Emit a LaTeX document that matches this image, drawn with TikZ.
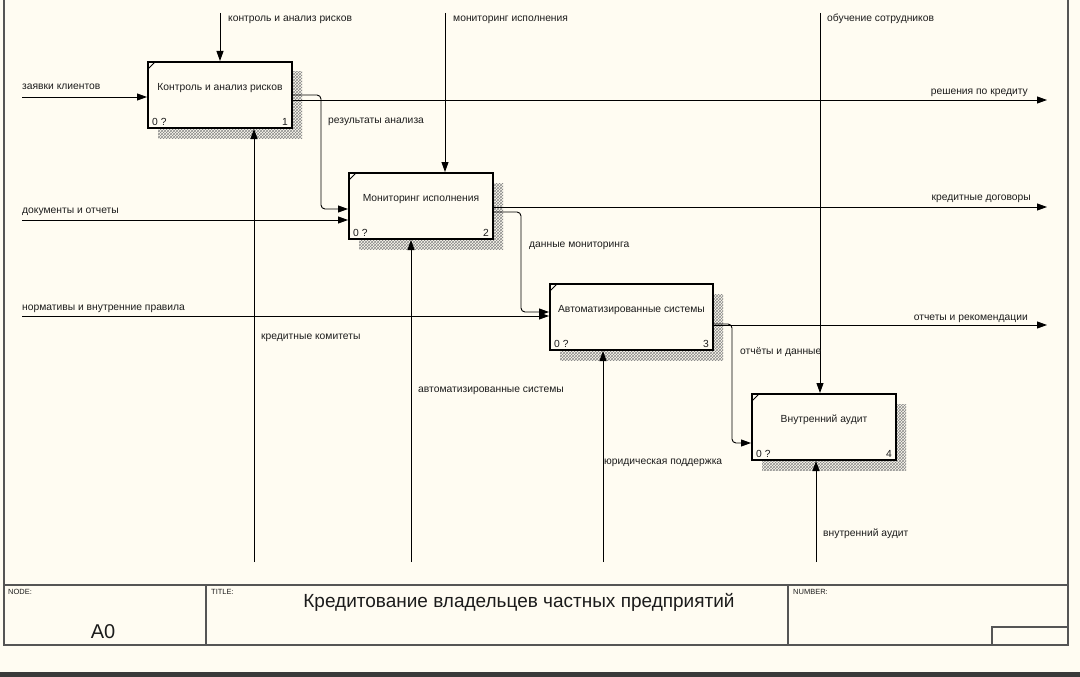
\documentclass[tikz,border=0pt]{standalone}
\usepackage{fontspec}
\setmainfont{Liberation Sans}
\usetikzlibrary{arrows.meta, positioning, calc, shadows, patterns}
\definecolor{PaperBg}{HTML}{FFFCF2}
\definecolor{FrameGray}{HTML}{555555}
\definecolor{TextDark}{HTML}{1C1C1C}
\definecolor{HatchGray}{HTML}{8A8A8A}
\definecolor{BarDark}{HTML}{3A3A3A}

\begin{document}
\begin{tikzpicture}[x=1pt, y=-1pt,
    func/.style={
      draw=black, fill=PaperBg, line width=2pt,
      minimum width=144pt, minimum height=66pt, inner sep=0pt,
      text depth=17pt, font=\fontsize{10.3}{12}\selectfont\color{TextDark},
      drop shadow={shadow xshift=10pt, shadow yshift=-10pt, opacity=1,
                   pattern=crosshatch, pattern color=HatchGray}
    },
    arr/.style={-{Triangle[length=10pt,width=7pt]}, line width=0.9pt},
    fb/.style={arr, rounded corners=4pt},
    lbl/.style={font=\fontsize{10.3}{12}\selectfont\color{TextDark},
      text height=7pt, text depth=2pt, anchor=west, inner sep=0pt},
    tag/.style={font=\fontsize{10.3}{12}\selectfont\color{TextDark},
      inner xsep=5pt, inner ysep=3pt},
    hd/.style={font=\fontsize{7.5}{8}\selectfont\color{TextDark}, anchor=north west, inner sep=0pt}
  ]
    % Page and frame
    \fill[PaperBg] (0,0) rectangle (1080,677);
    \useasboundingbox (0,0) rectangle (1080,677);
    \fill[BarDark] (0,672) rectangle (1080,677);
    \draw[FrameGray, line width=1.8pt] (4,0) -- (4,645) -- (1068,645) -- (1068,0);
    \draw[FrameGray, line width=1.4pt] (4,585) -- (1068,585);
    \draw[FrameGray, line width=1.4pt] (206,585) -- (206,645);
    \draw[FrameGray, line width=1.4pt] (788,585) -- (788,645);
    \draw[FrameGray, line width=1.4pt] (992,645) -- (992,627) -- (1068,627);

    % Title block
    \node[hd] (nodehd) at (8,589) {NODE:};
    \node[hd] (titlehd) at (211,589) {TITLE:};
    \node[hd] (numhd) at (793,589) {NUMBER:};
    \node[font=\fontsize{20}{24}\selectfont\color{TextDark}] (nodeno) at (103,632) {A0};
    \node[font=\fontsize{19}{22}\selectfont\color{TextDark}] (title) at (519,602)
      {Кредитование владельцев частных предприятий};

    % Functions
    \node[func, anchor=north west] (b1) at (147,61) {Контроль и анализ рисков};
    \node[func, below right=43pt and 55pt of b1] (b2) {Мониторинг исполнения};
    \node[func, minimum width=163pt, below right=43pt and 55pt of b2] (b3)
      {Автоматизированные системы};
    \node[func, below right=42pt and 37pt of b3] (b4) {Внутренний аудит};

    % Corner marks and numbers
    \draw[line width=0.9pt] ($(b1.north west)+(1,8)$) -- ($(b1.north west)+(8,1)$);
    \draw[line width=0.9pt] ($(b2.north west)+(1,8)$) -- ($(b2.north west)+(8,1)$);
    \draw[line width=0.9pt] ($(b3.north west)+(1,8)$) -- ($(b3.north west)+(8,1)$);
    \draw[line width=0.9pt] ($(b4.north west)+(1,8)$) -- ($(b4.north west)+(8,1)$);
    \node[tag, anchor=south west] (b1q) at (b1.south west) {0 ?};
    \node[tag, anchor=south east] (b1n) at (b1.south east) {1};
    \node[tag, anchor=south west] (b2q) at (b2.south west) {0 ?};
    \node[tag, anchor=south east] (b2n) at (b2.south east) {2};
    \node[tag, anchor=south west] (b3q) at (b3.south west) {0 ?};
    \node[tag, anchor=south east] (b3n) at (b3.south east) {3};
    \node[tag, anchor=south west] (b4q) at (b4.south west) {0 ?};
    \node[tag, anchor=south east] (b4n) at (b4.south east) {4};

    % Free ends
    \coordinate (c1) at (220,13);
    \coordinate (c2) at (445,13);
    \coordinate (c4) at (820,13);
    \coordinate (i1) at (22,97);
    \coordinate (i2) at (22,220);
    \coordinate (i3) at (22,316);
    \coordinate (o1) at (1047,100);
    \coordinate (o2) at (1047,207);
    \coordinate (o3) at (1047,325);
    \coordinate (m1) at (254,562);
    \coordinate (m2) at (411,562);
    \coordinate (m3) at (603,562);
    \coordinate (m4) at (816,562);

    % Controls
    \draw[arr] (c1) -- (c1 |- b1.north);
    \draw[arr] (c2) -- (c2 |- b2.north);
    \draw[arr] (c4) -- (c4 |- b4.north);

    % Inputs
    \draw[arr] (i1) -- (i1 -| b1.west);
    \draw[arr] (i2) -- (i2 -| b2.west);
    \draw[arr] (i3) -- (i3 -| b3.west);

    % Outputs
    \draw[arr] (o1 -| b1.east) -- (o1);
    \draw[arr] (o2 -| b2.east) -- (o2);
    \draw[arr] (o3 -| b3.east) -- (o3);

    % Between functions
    \draw[fb] (b1.east) -| ($(b2.west)+(-27,3)$) -- ($(b2.west)+(0,3)$);
    \draw[fb] ($(b2.east)+(0,6)$) -| ($(b3.west)+(-28,-5)$) -- ($(b3.west)+(0,-5)$);
    \draw[fb] ($(b3.east)+(0,7)$) -| ($(b4.west)+(-19,16)$) -- ($(b4.west)+(0,16)$);

    % Mechanisms
    \draw[arr] (m1) -- (m1 |- b1.south);
    \draw[arr] (m2) -- (m2 |- b2.south);
    \draw[arr] (m3) -- (m3 |- b3.south);
    \draw[arr] (m4) -- (m4 |- b4.south);

    % Arrow labels
    \node[lbl] (lc1) at (228,19) {контроль и анализ рисков};
    \node[lbl] (lc2) at (453,19) {мониторинг исполнения};
    \node[lbl] (lc4) at (827,19) {обучение сотрудников};
    \node[lbl] (li1) at (22,87) {заявки клиентов};
    \node[lbl] (li2) at (22,211) {документы и отчеты};
    \node[lbl] (li3) at (22,308) {нормативы и внутренние правила};
    \node[lbl, anchor=east] (lo1) at (1028,92) {решения по кредиту};
    \node[lbl, anchor=east] (lo2) at (1031,198) {кредитные договоры};
    \node[lbl, anchor=east] (lo3) at (1028,318) {отчеты и рекомендации};
    \node[lbl] (lf1) at (328,121) {результаты анализа};
    \node[lbl] (lf2) at (529,245) {данные мониторинга};
    \node[lbl] (lf3) at (740,352) {отчёты и данные};
    \node[lbl] (lm1) at (261,337) {кредитные комитеты};
    \node[lbl] (lm2) at (418,390) {автоматизированные системы};
    \node[lbl] (lm3) at (604,462) {юридическая поддержка};
    \node[lbl] (lm4) at (823,534) {внутренний аудит};
  \end{tikzpicture}
\end{document}
